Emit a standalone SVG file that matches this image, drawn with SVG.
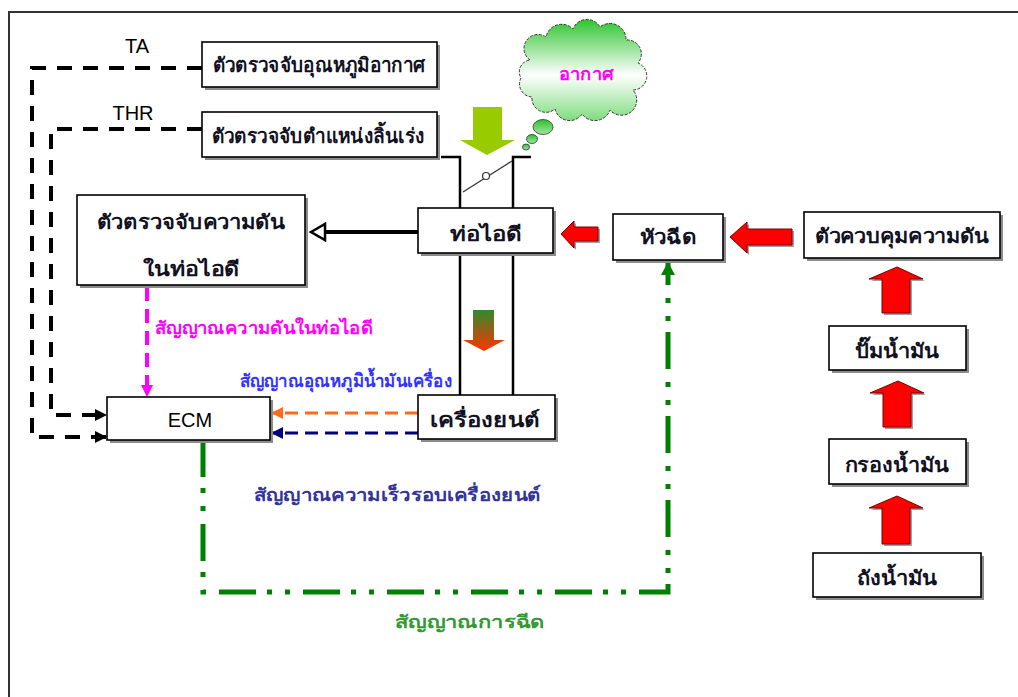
<svg xmlns="http://www.w3.org/2000/svg" width="1018" height="697" viewBox="0 0 1018 697">
  <defs>
    <style>
      .box { fill: #ffffff; stroke: #000000; stroke-width: 1.6; }
      .sh { fill: #8c8c8c; }
      .nt { font-family: "Liberation Sans", "Noto Sans", sans-serif; font-size: 20px; font-weight: bold; fill: #111122; text-anchor: middle; }
      .lat { font-family: "Liberation Sans", Arial, sans-serif; font-size: 20px; fill: #000000; text-anchor: middle; }
      .lbl { font-family: "Liberation Sans", "Noto Sans", sans-serif; font-size: 18px; font-weight: bold; }
      .blk { fill: none; stroke: #000000; stroke-width: 4; stroke-dasharray: 15 11; }
      .pipe { fill: none; stroke: #000000; stroke-width: 2.5; }
      .red { fill: #ff0000; stroke: #7a0000; stroke-width: 1; }
      .redsh { fill: #a0a0a0; }
    </style>
    <linearGradient id="cloudFill" x1="0" y1="0" x2="0" y2="1">
      <stop offset="0" stop-color="#2fc42f"/>
      <stop offset="0.55" stop-color="#ffffff"/>
      <stop offset="1" stop-color="#7fdc7f"/>
    </linearGradient>
    <linearGradient id="bubbleFill" x1="0" y1="0" x2="0" y2="1">
      <stop offset="0" stop-color="#2fbf2f"/>
      <stop offset="1" stop-color="#9fe89f"/>
    </linearGradient>
    <linearGradient id="mixFlow" x1="0" y1="0" x2="0" y2="1">
      <stop offset="0" stop-color="#2e8b2e"/>
      <stop offset="1" stop-color="#ff3300"/>
    </linearGradient>
    <marker id="mBlack" markerUnits="userSpaceOnUse" markerWidth="14" markerHeight="14" refX="12" refY="6" orient="auto">
      <path d="M0,0 L12,6 L0,12 Z" fill="#000000"/>
    </marker>
    <marker id="mMagenta" markerUnits="userSpaceOnUse" markerWidth="14" markerHeight="14" refX="12" refY="6" orient="auto">
      <path d="M0,0 L12,6 L0,12 Z" fill="#ff00ff"/>
    </marker>
    <marker id="mOrange" markerUnits="userSpaceOnUse" markerWidth="14" markerHeight="14" refX="12" refY="6" orient="auto">
      <path d="M0,0 L12,6 L0,12 Z" fill="#ff6a1a"/>
    </marker>
    <marker id="mNavy" markerUnits="userSpaceOnUse" markerWidth="14" markerHeight="14" refX="12" refY="6" orient="auto">
      <path d="M0,0 L12,6 L0,12 Z" fill="#000080"/>
    </marker>
    <marker id="mGreen" markerUnits="userSpaceOnUse" markerWidth="16" markerHeight="16" refX="13" refY="7" orient="auto">
      <path d="M0,0 L13,7 L0,14 Z" fill="#008000"/>
    </marker>
    <!-- block arrow shapes for the fuel path -->
    <polygon id="arrLeftS" points="561,234 574,221 574,227 598,227 598,241 574,241 574,248"/>
    <polygon id="arrLeftL" points="730,237 747,222 747,229 792,229 792,245 747,245 747,253"/>
    <polygon id="arrUp1" points="897,267 923,279 910,279 910,313 882,313 882,279 869,279"/>
    <polygon id="arrUp2" points="898,381 924,393 911,393 911,427 883,427 883,393 870,393"/>
    <polygon id="arrUp3" points="897,496 923,508 910,508 910,544 882,544 882,508 869,508"/>
  </defs>

  <rect width="1018" height="697" fill="#ffffff"/>
  <!-- page frame -->
  <path d="M9,700 V12 H1020" fill="none" stroke="#333333" stroke-width="2"/>

  <!-- signal and flow connectors -->
  <g id="connectors">
    <path class="blk" d="M202,68 H32 V437 H107" marker-end="url(#mBlack)"/>
    <path class="blk" d="M202,129 H51 V415 H107" marker-end="url(#mBlack)"/>
    <path d="M147,287 V397" fill="none" stroke="#ff00ff" stroke-width="4" stroke-dasharray="14 8" marker-end="url(#mMagenta)"/>
    <path d="M418,413 H271" fill="none" stroke="#ff6a1a" stroke-width="3" stroke-dasharray="13 7" marker-end="url(#mOrange)"/>
    <path d="M418,433 H271" fill="none" stroke="#000080" stroke-width="3" stroke-dasharray="13 7" marker-end="url(#mNavy)"/>
    <path d="M203,440 V592 H668 V262" fill="none" stroke="#008000" stroke-width="5" stroke-dasharray="37 11 5 13 5 13" marker-end="url(#mGreen)"/>
    <!-- manifold pressure tap -->
    <path d="M418,232 H324" fill="none" stroke="#000000" stroke-width="4"/>
    <polygon points="311,232 325,224 325,240" fill="#ffffff" stroke="#000000" stroke-width="2.5"/>
    <!-- throttle body -->
    <path class="pipe" d="M441,157 H460 V208 M531,157 H513 V208 M460,253 V395 M513,253 V395"/>
    <line x1="463" y1="192" x2="512" y2="161" stroke="#333333" stroke-width="1.2"/>
    <circle cx="486" cy="176" r="3.5" fill="#ffffff" stroke="#333333" stroke-width="1.2"/>
    <!-- air inlet arrow -->
    <polygon points="473,107 502,107 502,140 515,140 487,155 460,140 473,140" fill="#99cc00"/>
    <!-- mixture arrow -->
    <polygon points="473,310 494,310 494,340 505,340 484,351 463,340 473,340" fill="url(#mixFlow)"/>
    <!-- fuel flow arrows with drop shadows -->
    <g transform="translate(2,2)" class="redsh">
      <use href="#arrLeftS"/>
      <use href="#arrLeftL"/>
      <use href="#arrUp1"/>
      <use href="#arrUp2"/>
      <use href="#arrUp3"/>
    </g>
    <g class="red">
      <use href="#arrLeftS"/>
      <use href="#arrLeftL"/>
      <use href="#arrUp1"/>
      <use href="#arrUp2"/>
      <use href="#arrUp3"/>
    </g>
  </g>

  <!-- free labels -->
  <text class="lat" x="137" y="53">TA</text>
  <text class="lat" x="133" y="120">THR</text>
  <text class="lbl" x="155" y="334" fill="#ff00ff" textLength="218" lengthAdjust="spacingAndGlyphs">สัญญาณความดันในท่อไอดี</text>
  <text class="lbl" x="240" y="387" fill="#3333ff" textLength="212" lengthAdjust="spacingAndGlyphs">สัญญาณอุณหภูมิน้ำมันเครื่อง</text>
  <text class="lbl" x="254" y="501" fill="#333399" textLength="287" lengthAdjust="spacingAndGlyphs">สัญญาณความเร็วรอบเครื่องยนต์</text>
  <text class="lbl" x="395" y="628" fill="#339933" textLength="150" lengthAdjust="spacingAndGlyphs">สัญญาณการฉีด</text>

  <g id="n-air">
    <path d="M530,60 A14,14 0 0 1 546,37 A16,16 0 0 1 573,29 A15,15 0 0 1 600,27 A16,16 0 0 1 626,40 A14,14 0 0 1 638,63 A14,14 0 0 1 633,90 A15,15 0 0 1 610,110 A16,16 0 0 1 582,114 A15,15 0 0 1 555,109 A14,14 0 0 1 532,97 A13,13 0 0 1 521,78 A12,12 0 0 1 530,60 Z" fill="url(#cloudFill)" stroke="#333333" stroke-width="1" stroke-dasharray="3 1.5"/>
    <ellipse cx="543" cy="127" rx="10" ry="7.5" fill="url(#bubbleFill)" stroke="#333333" stroke-width="0.8"/>
    <ellipse cx="532" cy="139" rx="5.5" ry="4.5" fill="url(#bubbleFill)" stroke="#333333" stroke-width="0.8"/>
    <ellipse cx="526" cy="147" rx="3.5" ry="3" fill="url(#bubbleFill)" stroke="#333333" stroke-width="0.8"/>
    <text class="lbl" x="586" y="80" fill="#ff00ff" text-anchor="middle" font-size="21" textLength="54" lengthAdjust="spacingAndGlyphs">อากาศ</text>
  </g>

  <g id="n-ta-sensor">
    <rect class="sh" x="205" y="45" width="235" height="45"/>
    <rect class="box" x="202" y="42" width="235" height="45"/>
    <text class="nt" x="319" y="72" textLength="213" lengthAdjust="spacingAndGlyphs">ตัวตรวจจับอุณหภูมิอากาศ</text>
  </g>
  <g id="n-thr-sensor">
    <rect class="sh" x="205" y="115" width="235" height="45"/>
    <rect class="box" x="202" y="112" width="235" height="45"/>
    <text class="nt" x="318" y="143" textLength="213" lengthAdjust="spacingAndGlyphs">ตัวตรวจจับตำแหน่งลิ้นเร่ง</text>
  </g>
  <g id="n-map-sensor">
    <rect class="sh" x="80" y="198" width="228" height="90"/>
    <rect class="box" x="77" y="195" width="228" height="90"/>
    <text class="nt" x="191" y="229" textLength="188" lengthAdjust="spacingAndGlyphs">ตัวตรวจจับความดัน</text>
    <text class="nt" x="191" y="276" textLength="97" lengthAdjust="spacingAndGlyphs">ในท่อไอดี</text>
  </g>
  <g id="n-intake">
    <rect class="sh" x="421" y="211" width="135" height="45"/>
    <rect class="box" x="418" y="208" width="135" height="45"/>
    <text class="nt" x="486" y="241" textLength="72" lengthAdjust="spacingAndGlyphs">ท่อไอดี</text>
  </g>
  <g id="n-engine">
    <rect class="sh" x="421" y="398" width="137" height="44"/>
    <rect class="box" x="418" y="395" width="137" height="44"/>
    <text class="nt" x="485" y="427" textLength="110" lengthAdjust="spacingAndGlyphs">เครื่องยนต์</text>
  </g>
  <g id="n-ecm">
    <rect class="sh" x="110" y="400" width="163" height="43"/>
    <rect class="box" x="107" y="397" width="163" height="43"/>
    <text class="lat" x="190" y="427">ECM</text>
  </g>
  <g id="n-injector">
    <rect class="sh" x="616" y="217" width="110" height="46"/>
    <rect class="box" x="613" y="214" width="110" height="46"/>
    <text class="nt" x="668" y="244" textLength="57" lengthAdjust="spacingAndGlyphs">หัวฉีด</text>
  </g>
  <g id="n-regulator">
    <rect class="sh" x="807" y="215" width="196" height="46"/>
    <rect class="box" x="804" y="212" width="196" height="46"/>
    <text class="nt" x="902" y="243" textLength="175" lengthAdjust="spacingAndGlyphs">ตัวควบคุมความดัน</text>
  </g>
  <g id="n-pump">
    <rect class="sh" x="832" y="329" width="137" height="44"/>
    <rect class="box" x="829" y="326" width="137" height="44"/>
    <text class="nt" x="897" y="358" textLength="85" lengthAdjust="spacingAndGlyphs">ปั๊มน้ำมัน</text>
  </g>
  <g id="n-filter">
    <rect class="sh" x="832" y="442" width="137" height="45"/>
    <rect class="box" x="829" y="439" width="137" height="45"/>
    <text class="nt" x="897" y="472" textLength="105" lengthAdjust="spacingAndGlyphs">กรองน้ำมัน</text>
  </g>
  <g id="n-tank">
    <rect class="sh" x="816" y="556" width="168" height="44"/>
    <rect class="box" x="813" y="553" width="168" height="44"/>
    <text class="nt" x="897" y="585" textLength="81" lengthAdjust="spacingAndGlyphs">ถังน้ำมัน</text>
  </g>
</svg>
